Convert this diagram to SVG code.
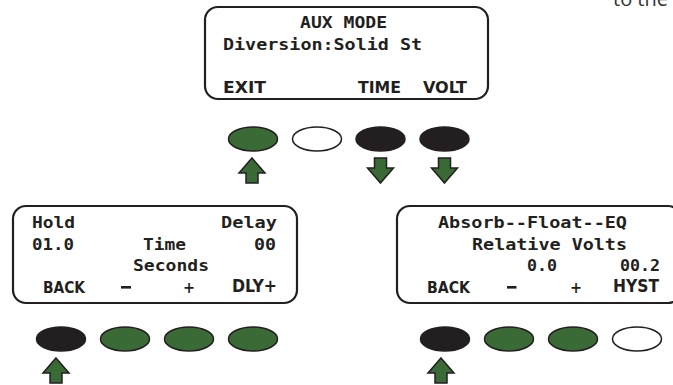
<svg xmlns="http://www.w3.org/2000/svg" xmlns:xlink="http://www.w3.org/1999/xlink" width="673" height="385" viewBox="0 0 673 385">
<style>
.box{fill:#fff;stroke:#231f20;stroke-width:2.2}
.lcd{font-family:"DejaVu Sans Mono","Liberation Mono",monospace;font-weight:bold;font-size:16px;fill:#231f20}
.btn{font-family:"DejaVu Sans Condensed","DejaVu Sans",sans-serif;font-weight:bold;font-size:16px;fill:#231f20}
.btn2{font-family:"DejaVu Sans Condensed","DejaVu Sans",sans-serif;font-weight:900;font-size:17px;fill:#231f20}
.on{fill:#3a6a35;stroke:#231f20;stroke-width:1.5}
.off{fill:#fff;stroke:#231f20;stroke-width:1.5}
.blk{fill:#231f20;stroke:#231f20;stroke-width:1.5}
.arr{fill:#3a6a35;stroke:#231f20;stroke-width:1.5;stroke-linejoin:miter}
.note{font-family:"Open Sans","Noto Sans",sans-serif;font-size:20px;fill:#333}
</style>
<defs>
<path id="up" d="M0,0 L13,15 L6,15 L6,25 L-6,25 L-6,15 L-13,15 Z"/>
</defs>
<text class="note" x="613" y="6">to the</text>
<g id="aux-mode">
<rect class="box" x="205" y="7" width="283" height="92" rx="13"/>
<text class="lcd" x="300" y="28" textLength="87" lengthAdjust="spacingAndGlyphs">AUX MODE</text>
<text class="lcd" x="223" y="50" textLength="199" lengthAdjust="spacingAndGlyphs">Diversion:Solid St</text>
<text class="btn" x="223" y="93" textLength="43" lengthAdjust="spacingAndGlyphs">EXIT</text>
<text class="btn" x="358" y="93" textLength="43" lengthAdjust="spacingAndGlyphs">TIME</text>
<text class="btn" x="423" y="93" textLength="44" lengthAdjust="spacingAndGlyphs">VOLT</text>
</g>
<g id="aux-buttons">
<ellipse class="on" cx="253" cy="139" rx="24.5" ry="12"/>
<ellipse class="off" cx="317" cy="139" rx="24.5" ry="12"/>
<ellipse class="blk" cx="380.5" cy="139" rx="24.5" ry="12"/>
<ellipse class="blk" cx="444.5" cy="139" rx="24.5" ry="12"/>
</g>
<g id="time-screen">
<rect class="box" x="13" y="206" width="284" height="97" rx="13"/>
<text class="lcd" x="32" y="228" textLength="43" lengthAdjust="spacingAndGlyphs">Hold</text>
<text class="lcd" x="221" y="228" textLength="56" lengthAdjust="spacingAndGlyphs">Delay</text>
<text class="lcd" x="32" y="250" textLength="42" lengthAdjust="spacingAndGlyphs">01.0</text>
<text class="lcd" x="143" y="250" textLength="43" lengthAdjust="spacingAndGlyphs">Time</text>
<text class="lcd" x="254" y="250" textLength="22" lengthAdjust="spacingAndGlyphs">00</text>
<text class="lcd" x="133" y="271" textLength="76" lengthAdjust="spacingAndGlyphs">Seconds</text>
<text class="btn" x="43" y="293" textLength="42" lengthAdjust="spacingAndGlyphs">BACK</text>
<rect x="121" y="286" width="10" height="2.6" fill="#231f20"/>
<text class="btn" x="189" y="293" text-anchor="middle">+</text>
<text class="btn2" x="232" y="292" textLength="45" lengthAdjust="spacingAndGlyphs">DLY+</text>
</g>
<g id="time-buttons">
<ellipse class="blk" cx="61" cy="339" rx="24.5" ry="12"/>
<ellipse class="on" cx="125" cy="339" rx="24.5" ry="12"/>
<ellipse class="on" cx="189" cy="339" rx="24.5" ry="12"/>
<ellipse class="on" cx="253" cy="339" rx="24.5" ry="12"/>
</g>
<g id="volt-screen">
<rect class="box" x="397" y="206" width="284" height="97" rx="13"/>
<text class="lcd" x="438" y="228" textLength="189" lengthAdjust="spacingAndGlyphs">Absorb--Float--EQ</text>
<text class="lcd" x="472" y="250" textLength="155" lengthAdjust="spacingAndGlyphs">Relative Volts</text>
<text class="lcd" x="527" y="271" textLength="30" lengthAdjust="spacingAndGlyphs">0.0</text>
<text class="lcd" x="620" y="271" textLength="40" lengthAdjust="spacingAndGlyphs">00.2</text>
<text class="btn" x="427" y="293" textLength="43" lengthAdjust="spacingAndGlyphs">BACK</text>
<rect x="507" y="286" width="9.5" height="2.6" fill="#231f20"/>
<text class="btn" x="576" y="293" text-anchor="middle">+</text>
<text class="btn2" x="613" y="292" textLength="46" lengthAdjust="spacingAndGlyphs">HYST</text>
</g>
<g id="volt-buttons">
<ellipse class="blk" cx="445" cy="339" rx="24.5" ry="12"/>
<ellipse class="on" cx="509" cy="339" rx="24.5" ry="12"/>
<ellipse class="on" cx="573" cy="339" rx="24.5" ry="12"/>
<ellipse class="off" cx="637" cy="339" rx="24.5" ry="12"/>
</g>
<g id="connectors">
<use xlink:href="#up" class="arr" transform="translate(252,158)"/>
<use xlink:href="#up" class="arr" transform="translate(380.5,183) scale(1,-1)"/>
<use xlink:href="#up" class="arr" transform="translate(444.5,183) scale(1,-1)"/>
<use xlink:href="#up" class="arr" transform="translate(56,358)"/>
<use xlink:href="#up" class="arr" transform="translate(441,358)"/>
</g>
</svg>
